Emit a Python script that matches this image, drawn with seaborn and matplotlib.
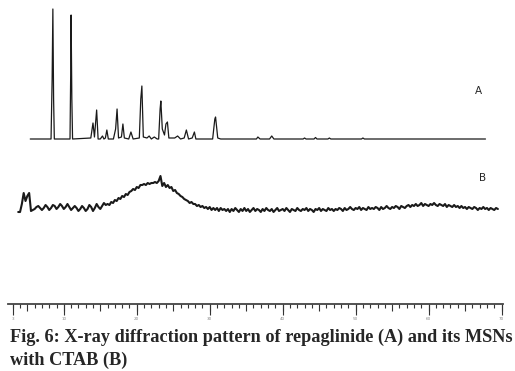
import numpy as np
import pandas as pd
import matplotlib
matplotlib.use("Agg")
import matplotlib.pyplot as plt
import seaborn as sns

# pattern A: repaglinide (2theta, intensity a.u. above its baseline)
twotheta_a = [5.4,
              8.25, 8.4, 8.5, 8.6, 8.7,
              10.85, 10.95, 11.0, 11.1, 11.2,
              13.7, 14.0, 14.2, 14.5, 14.7,
              15.0, 15.3, 15.5,
              15.7, 15.9, 16.1,
              16.8, 17.1, 17.3, 17.5,
              17.9, 18.1, 18.3,
              18.9, 19.2, 19.5,
              20.35, 20.55, 20.7, 20.9,
              21.4, 21.7, 22.0, 22.4, 22.8,
              23.0, 23.2, 23.3, 23.5, 23.8, 24.0, 24.2, 24.4,
              25.2, 25.6, 26.0,
              26.5, 26.8, 27.1,
              27.6, 27.9, 28.1,
              30.4, 30.7, 30.8, 31.1,
              31.5, 36.4, 36.6, 36.9, 38.2, 38.5, 38.8,
              42.8, 43.0, 43.2, 44.3, 44.5, 44.7, 46.2, 46.4, 46.6,
              50.8, 51.0, 51.2, 67.8]
counts_a = [0,
            0, 60, 130, 40, 0,
            0, 70, 124, 40, 0,
            1, 16, 2, 29, 0,
            0, 3, 0,
            1, 9, 0,
            0, 10, 30, 1,
            2, 15, 1,
            0, 7, 0,
            1, 40, 53, 2,
            1, 3, 0, 2, 0,
            0, 30, 38, 10, 4, 15, 17, 1,
            1, 3, 0,
            1, 9, 0,
            1, 7, 0,
            0, 20, 22, 1,
            0, 0, 2, 0, 0, 3, 0,
            0, 1, 0, 0, 1.5, 0, 0, 1, 0,
            0, 1, 0, 0]

# pattern B: MSNs with CTAB, step 0.25 deg from 3.75
b_start, b_step = 3.75, 0.25
counts_b = [92, 92, 100, 111, 103, 108, 111, 93, 94,
            95, 97, 98, 96, 94, 96, 99, 97, 94, 96,
            99, 98, 95, 97, 100, 98, 95, 97, 100, 97,
            94, 96, 98, 96, 93, 95, 98, 96, 93, 95,
            99, 97, 93, 96, 100, 97, 95, 98, 101, 99,
            100, 99, 102, 101, 104, 103, 106, 105, 108, 107,
            110, 109, 112, 113, 115, 114, 117, 116, 119, 119,
            120, 119, 121, 120, 121, 121, 122, 121, 123, 128,
            118, 121, 117, 119, 116, 117, 113, 114, 111, 110,
            108, 107, 105, 104, 103, 101, 102, 100, 100, 98,
            99, 97, 98, 96, 97, 95, 97, 94, 96, 94,
            96, 93, 96, 94, 95,
            93, 95, 92, 95, 93, 96, 94, 92, 95, 93,
            96, 93, 95, 92, 94, 96, 93, 95, 94, 92,
            95, 93, 96, 94, 93, 95, 92, 94, 96, 93,
            94, 95, 93, 96, 94, 92, 95, 94, 93, 96,
            94, 93, 95, 94, 96, 93, 95, 94, 92, 95,
            94, 96, 93, 95, 94, 93, 96, 94, 95, 93,
            95, 94, 96, 95, 93, 96, 94, 95, 97, 95,
            94, 96, 95, 97, 94, 96, 95, 94, 97, 95,
            96, 95, 97, 96, 94, 97, 95, 96, 98, 96,
            95, 97, 96, 98, 97, 95, 98, 97, 96,
            98, 99, 97, 99, 98, 100, 98, 99, 101, 98,
            100, 99, 98, 100, 99, 101, 99, 98, 100, 99,
            98, 100, 97, 99, 98, 97, 99, 97, 98,
            96, 98, 96, 97, 95, 97, 96, 95, 97, 96,
            94, 96, 95, 97, 95, 96, 94, 96, 95, 94, 96, 95]
twotheta_b = b_start + b_step * np.arange(len(counts_b))

tick_labels = ["3", "10", "20", "30", "40", "50", "60", "70"]
tick_pos = [3, 10, 20, 30, 40, 50, 60, 70]
offset_a = 165

sns.set_style("white")
fig = plt.figure(figsize=(5.15, 3.71), dpi=100)
ax = fig.add_axes([8 / 515, 67 / 371, 495 / 515, 304 / 371])

df_a = pd.DataFrame({"2theta": twotheta_a, "I": np.array(counts_a) + offset_a})
df_b = pd.DataFrame({"2theta": twotheta_b, "I": counts_b})
sns.lineplot(data=df_a, x="2theta", y="I", ax=ax, color="#1a1a1a", lw=0.9)
sns.lineplot(data=df_b, x="2theta", y="I", ax=ax, color="#1a1a1a", lw=1.5)

ax.set_xlim(2.35, 70.2)
ax.set_ylim(0, 304)
ax.set_xlabel("")
ax.set_ylabel("")
ax.set_yticks([])
for s in ["left", "top", "right"]:
    ax.spines[s].set_visible(False)
ax.spines["bottom"].set_color("#444444")
ax.spines["bottom"].set_linewidth(1.3)

ax.set_xticks(np.arange(5, 71, 5))
ax.set_xticks(np.arange(3, 71, 1), minor=True)
ax.set_xticklabels([])
ax.tick_params(axis="x", which="major", direction="out", length=5, width=0.8,
               color="#333333", bottom=True)
ax.tick_params(axis="x", which="minor", direction="out", length=3, width=0.8,
               color="#333333", bottom=True)

sec = ax.secondary_xaxis("bottom")
sec.set_xticks(tick_pos)
sec.set_xticklabels(tick_labels)
sec.tick_params(length=8, width=0.8, color="#333333", labelsize=3,
                labelcolor="#888888", pad=1)
sec.spines["bottom"].set_visible(False)

fig.text(478 / 515, 1 - 91 / 371, "A", fontsize=7.5, ha="center", va="center")
fig.text(483 / 515, 1 - 178 / 371, "B", fontsize=7.5, ha="center", va="center")

fig.text(10 / 515, 1 - 337 / 371,
         "Fig. 6: X-ray diffraction pattern of repaglinide (A) and its MSNs",
         family="Liberation Serif", weight="bold", fontsize=13.15, va="center")
fig.text(10 / 515, 1 - 360 / 371, "with CTAB (B)",
         family="Liberation Serif", weight="bold", fontsize=13.15, va="center")

fig.savefig("out.png", dpi=100)
